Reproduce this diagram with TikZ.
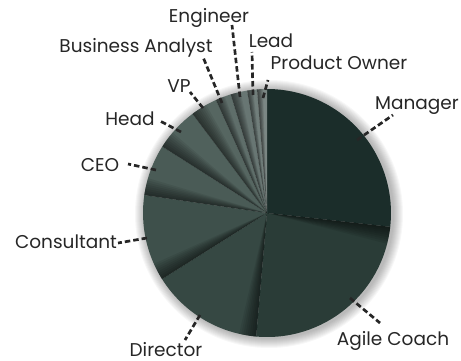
\documentclass[tikz,border=0pt]{standalone}
\usepackage{fontspec}
\setmainfont{Poppins}
\definecolor{managerc}{HTML}{1B2D2A}
\definecolor{coachc}{HTML}{2A3C37}
\definecolor{directorc}{HTML}{364843}
\definecolor{consultantc}{HTML}{3E504B}
\definecolor{ceoc}{HTML}{4A5B56}
\definecolor{headc}{HTML}{50615C}
\definecolor{vpc}{HTML}{566661}
\definecolor{analystc}{HTML}{5F6E6A}
\definecolor{engineerc}{HTML}{687673}
\definecolor{leadc}{HTML}{717E7B}
\definecolor{ownerc}{HTML}{7B8784}
\tikzset{
  lbl/.style={anchor=base, inner sep=0pt, text=black!85, font=\fontsize{18.5}{20}\selectfont},
  leader/.style={line width=2.7pt, draw=black!85, dash pattern=on 5.5pt off 3pt}
}
\begin{document}
\begin{tikzpicture}[x=1pt, y=1pt]
        \useasboundingbox (0,0) rectangle (461,-361);
        \coordinate (c) at (267,-213);
        \foreach \k in {1,...,10}
          \fill[black, opacity=0.03] ([xshift=2pt, yshift=-1pt]c) circle[radius=124+\k];
        \foreach \s/\e/\col in {90/-6.4/managerc, -6.4/-95/coachc, -95/-147.8/directorc,
                                -147.8/-188.3/consultantc, -188.3/-212.4/ceoc, -212.4/-233.1/headc,
                                -233.1/-245.7/vpc, -245.7/-253/analystc, -253/-260.8/engineerc,
                                -260.8/-265.4/leadc, -265.4/-270/ownerc}
          \fill[\col] (c) -- ++(\s:124) arc[start angle=\s, end angle=\e, radius=124] -- cycle;
        \foreach \s/\e in {-6.4/-95, -95/-147.8, -147.8/-188.3, -188.3/-212.4, -212.4/-233.1,
                           -233.1/-245.7, -245.7/-253, -253/-260.8, -260.8/-265.4, -265.4/-270}
        {
          \pgfmathsetmacro\w{min(8, 0.6*(\s-\e))}
          \foreach \k in {1,...,8}
          {
            \pgfmathsetmacro\t{\s-\k*\w/8}
            \fill[black, opacity=0.075] (c) -- ++(\s:124) arc[start angle=\s, end angle=\t, radius=124] -- cycle;
          }
        }
        \node[lbl] (manager)    at (417,-110) {Manager};
        \node[lbl] (coach)      at (393,-345) {Agile Coach};
        \node[lbl] (director)   at (166,-356) {Director};
        \node[lbl] (consultant) at (66,-248)  {Consultant};
        \node[lbl] (ceo)        at (100,-171) {CEO};
        \node[lbl] (head)       at (130,-125) {Head};
        \node[lbl] (vp)         at (179,-93)  {VP};
        \node[lbl] (analyst)    at (136,-53)  {Business Analyst};
        \node[lbl] (engineer)   at (209,-23)  {Engineer};
        \node[lbl] (lead)       at (271,-48)  {Lead};
        \node[lbl] (owner)      at (339,-70)  {Product Owner};
        \coordinate (manager-a)    at (357,-140);
        \coordinate (manager-b)    at (393,-115);
        \coordinate (coach-a)      at (350,-298);
        \coordinate (coach-b)      at (380,-323);
        \coordinate (director-a)   at (200,-315);
        \coordinate (director-b)   at (185,-340);
        \coordinate (consultant-a) at (147,-238);
        \coordinate (consultant-b) at (118,-243);
        \coordinate (ceo-a)        at (156,-170);
        \coordinate (ceo-b)        at (128,-164);
        \coordinate (head-a)       at (181,-132);
        \coordinate (head-b)       at (160,-121);
        \coordinate (vp-a)         at (203,-108);
        \coordinate (vp-b)         at (190,-92);
        \coordinate (analyst-a)    at (222,-103);
        \coordinate (analyst-b)    at (203,-57);
        \coordinate (engineer-a)   at (240,-97);
        \coordinate (engineer-b)   at (232,-25);
        \coordinate (lead-a)       at (253,-95);
        \coordinate (lead-b)       at (252,-52);
        \coordinate (owner-a)      at (263,-98);
        \coordinate (owner-b)      at (268,-80);
        \draw[leader] (manager-a) -- (manager-b);
        \draw[leader] (coach-a) -- (coach-b);
        \draw[leader] (director-a) -- (director-b);
        \draw[leader] (consultant-a) -- (consultant-b);
        \draw[leader] (ceo-a) -- (ceo-b);
        \draw[leader] (head-a) -- (head-b);
        \draw[leader] (vp-a) -- (vp-b);
        \draw[leader] (analyst-a) -- (analyst-b);
        \draw[leader] (engineer-a) -- (engineer-b);
        \draw[leader] (lead-a) -- (lead-b);
        \draw[leader] (owner-a) -- (owner-b);
\end{tikzpicture}
\end{document}
